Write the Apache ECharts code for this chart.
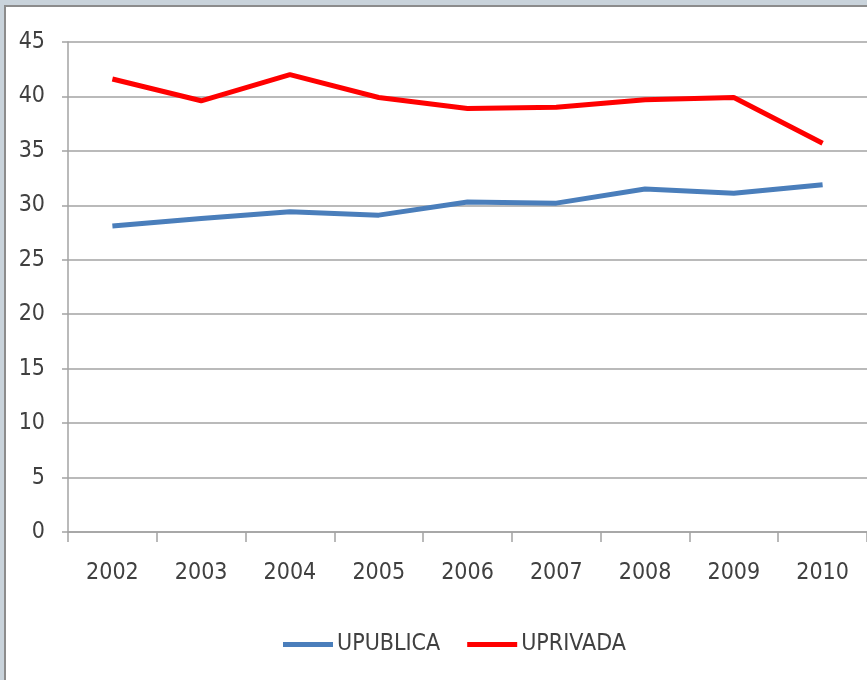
<!DOCTYPE html>
<html>
<head>
<meta charset="utf-8">
<script src="https://cdn.jsdelivr.net/npm/echarts@6/dist/echarts.min.js"></script>
<style>
  html, body { margin: 0; padding: 0; background: #fff; }
  #main { width: 867px; height: 680px; }
</style>
</head>
<body>
<div id="main"></div>
<script>
var years = ['2002', '2003', '2004', '2005', '2006', '2007', '2008', '2009', '2010'];
var upublica = [28.1, 28.8, 29.4, 29.1, 30.3, 30.2, 31.5, 31.1, 31.9];
var uprivada = [41.6, 39.6, 42.0, 39.9, 38.9, 39.0, 39.7, 39.9, 35.7];
var yTicks = [0, 5, 10, 15, 20, 25, 30, 35, 40, 45];

var font = '"DejaVu Sans Condensed", sans-serif';
var gridColor = '#a3a3a3';

var chart = echarts.init(document.getElementById('main'));

var option = {
  backgroundColor: '#fff',
  animation: false,
  color: ['#4a7ebb', '#ff0000'],
  graphic: [
    { type: 'rect', shape: { x: 0, y: 0, width: 867, height: 5 }, style: { fill: '#c9d3db' } },
    { type: 'rect', shape: { x: 0, y: 0, width: 4, height: 680 }, style: { fill: '#c9d3db' } },
    { type: 'rect', shape: { x: 4, y: 5, width: 863, height: 2 }, style: { fill: '#8c8c8c' } },
    { type: 'rect', shape: { x: 4, y: 5, width: 2, height: 675 }, style: { fill: '#8c8c8c' } }
  ],
  grid: { left: 68, right: 0, top: 42, bottom: 148 },
  legend: {
    data: ['UPUBLICA', 'UPRIVADA'],
    left: 278,
    top: 628,
    itemWidth: 50,
    itemHeight: 5,
    itemGap: 27,
    icon: 'rect',
    textStyle: { fontFamily: font, fontSize: 23, color: '#404040', padding: [0, 0, 0, -1] }
  },
  xAxis: {
    type: 'category',
    data: years,
    boundaryGap: true,
    axisLine: { lineStyle: { color: gridColor, width: 1.5 } },
    axisTick: { show: true, length: 10, lineStyle: { color: gridColor, width: 1.5 } },
    axisLabel: { fontFamily: font, fontSize: 23, color: '#404040', margin: 30 }
  },
  yAxis: {
    type: 'value',
    min: yTicks[0],
    max: yTicks[yTicks.length - 1],
    interval: 5,
    axisLine: { show: true, lineStyle: { color: gridColor, width: 1.5 } },
    axisTick: { show: true, length: 6, lineStyle: { color: gridColor, width: 1.5 } },
    splitLine: { lineStyle: { color: gridColor, width: 1.5 } },
    axisLabel: { fontFamily: font, fontSize: 23, color: '#404040', margin: 23 }
  },
  series: [
    {
      name: 'UPUBLICA',
      type: 'line',
      data: upublica,
      symbol: 'none',
      lineStyle: { width: 5, color: '#4a7ebb' }
    },
    {
      name: 'UPRIVADA',
      type: 'line',
      data: uprivada,
      symbol: 'none',
      lineStyle: { width: 5, color: '#ff0000' }
    }
  ]
};

chart.setOption(option);
</script>
</body>
</html>
